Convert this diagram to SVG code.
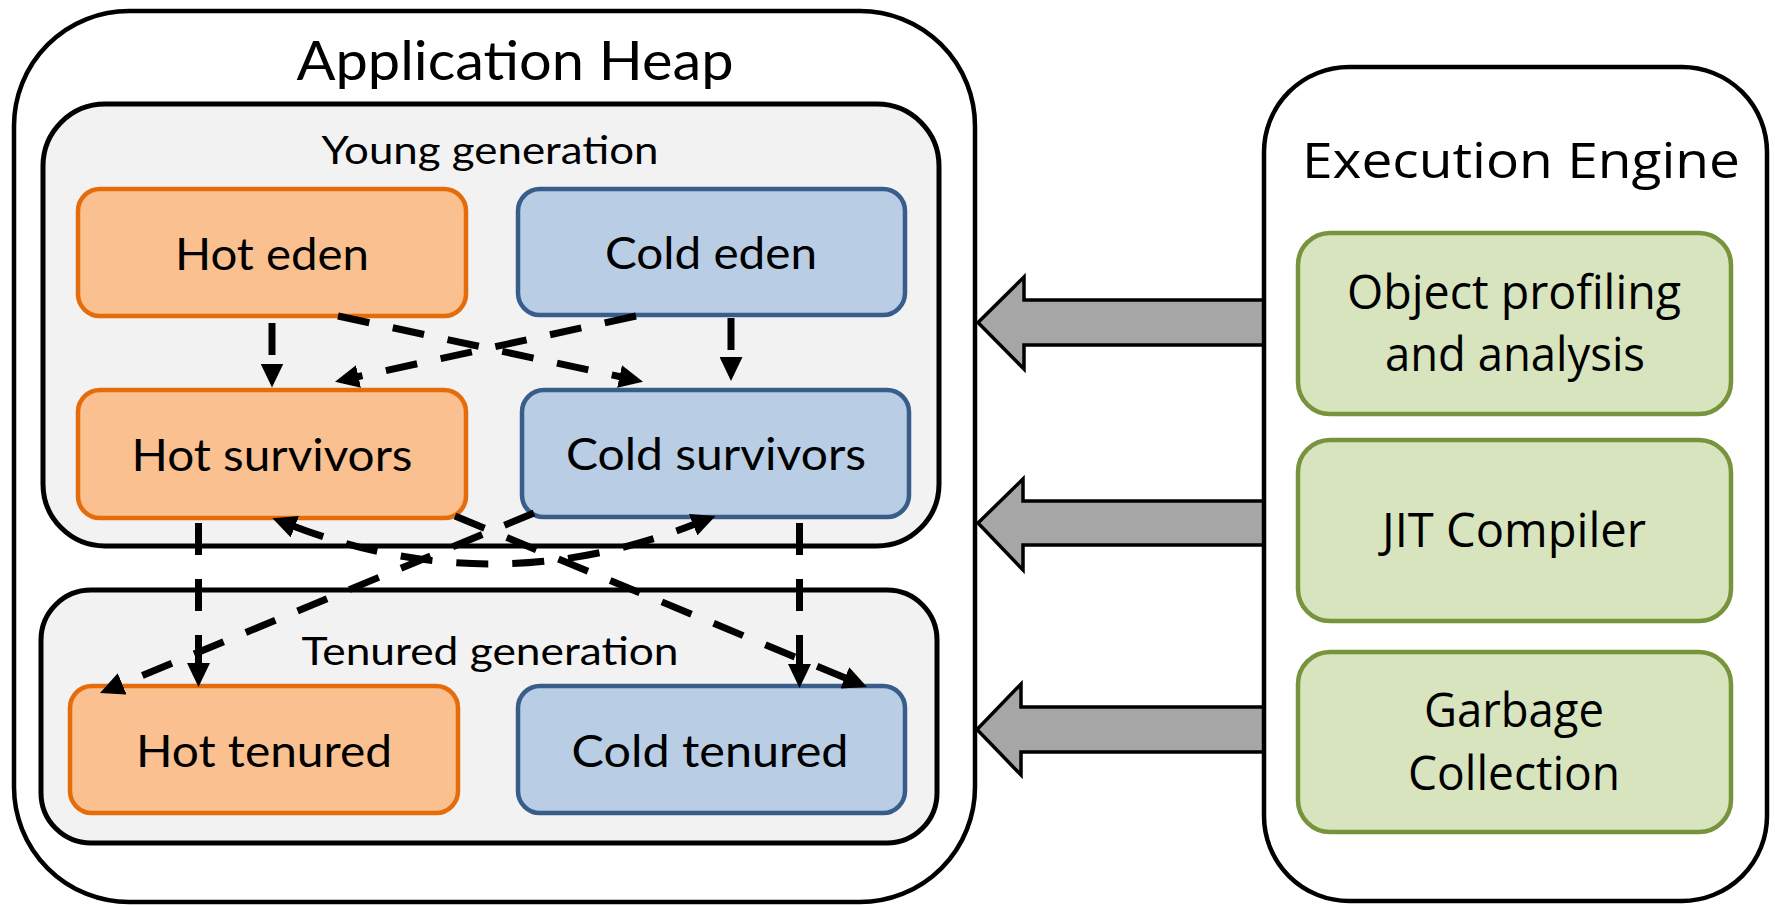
<svg xmlns="http://www.w3.org/2000/svg" width="1775" height="905" viewBox="0 0 1775 905">
<style>
.cont{fill:#ffffff;stroke:#000;stroke-width:4.5}
.gen{fill:#f2f2f2;stroke:#000;stroke-width:5}
.hot{fill:#fac090;stroke:#e46c0a;stroke-width:4.5}
.cold{fill:#b9cde5;stroke:#385d8a;stroke-width:4.5}
.eng{fill:#d7e4bd;stroke:#77933c;stroke-width:4.5}
.big{fill:#a6a6a6;stroke:#000;stroke-width:3.5;stroke-linejoin:miter}
.tl{font-family:Lato,"Liberation Sans",sans-serif;fill:#000;text-anchor:middle}
.tr{font-family:"Open Sans","Noto Sans","Liberation Sans",sans-serif;fill:#000;text-anchor:middle}
.dash{fill:none;stroke:#000;stroke-width:7;stroke-dasharray:32 24;marker-end:url(#ah)}
</style>
<defs>
<marker id="ah" viewBox="0 0 24 23" refX="2" refY="11.5" markerWidth="24" markerHeight="23" markerUnits="userSpaceOnUse" orient="auto-start-reverse">
<path d="M0,0 L24,11.5 L0,23 z" fill="#000"/>
</marker>
</defs>

<g id="application-heap">
<rect class="cont" x="14" y="11" width="961" height="891" rx="115" ry="115"/>
<text class="tl" x="515" y="80" font-size="54" textLength="437" lengthAdjust="spacingAndGlyphs">Application Heap</text>
</g>
<g id="young-generation">
<rect class="gen" x="43" y="104" width="896" height="442" rx="62" ry="62"/>
<text class="tl" x="490" y="164" font-size="39" textLength="337" lengthAdjust="spacingAndGlyphs">Young generation</text>
</g>
<g id="tenured-generation">
<rect class="gen" x="41" y="590" width="896" height="253" rx="50" ry="50"/>
<text class="tl" x="490" y="665" font-size="39" textLength="377" lengthAdjust="spacingAndGlyphs">Tenured generation</text>
</g>

<g id="hot-eden">
<rect class="hot" x="78" y="189" width="388" height="127" rx="22" ry="22"/>
<text class="tl" x="272" y="270" font-size="45" textLength="194" lengthAdjust="spacingAndGlyphs">Hot eden</text>
</g>
<g id="cold-eden">
<rect class="cold" x="518" y="189" width="387" height="126" rx="22" ry="22"/>
<text class="tl" x="711" y="269" font-size="45" textLength="212" lengthAdjust="spacingAndGlyphs">Cold eden</text>
</g>
<g id="hot-survivors">
<rect class="hot" x="78" y="390" width="388" height="128" rx="22" ry="22"/>
<text class="tl" x="272" y="471" font-size="45" textLength="281" lengthAdjust="spacingAndGlyphs">Hot survivors</text>
</g>
<g id="cold-survivors">
<rect class="cold" x="522" y="390" width="387" height="127" rx="22" ry="22"/>
<text class="tl" x="716" y="470" font-size="45" textLength="300" lengthAdjust="spacingAndGlyphs">Cold survivors</text>
</g>
<g id="hot-tenured">
<rect class="hot" x="70" y="686" width="388" height="127" rx="22" ry="22"/>
<text class="tl" x="264" y="767" font-size="45" textLength="256" lengthAdjust="spacingAndGlyphs">Hot tenured</text>
</g>
<g id="cold-tenured">
<rect class="cold" x="518" y="686" width="387" height="127" rx="22" ry="22"/>
<text class="tl" x="710" y="767" font-size="45" textLength="277" lengthAdjust="spacingAndGlyphs">Cold tenured</text>
</g>

<g id="connectors">
<path class="dash" d="M272,323 L272,365.5"/>
<path class="dash" d="M731,318 L731,359"/>
<path class="dash" d="M338,316 L621.5,377"/>
<path class="dash" d="M636,316 L356.5,377"/>
<path class="dash" d="M198.5,523 L198.5,665"/>
<path class="dash" d="M799.5,523 L799.5,666"/>
<path class="dash" d="M455,516 L846.7,678.6"/>
<path class="dash" d="M534,513 L120.3,684.6"/>
<path class="dash" style="marker-start:url(#ah)" d="M293,526 Q494,603 695,524"/>
<path class="big" d="M1268,300 L1024,300 L1024,277 L978,322.5 L1024,369 L1024,345 L1268,345 Z"/>
<path class="big" d="M1268,501 L1023,501 L1023,479 L978,523 L1023,570 L1023,545 L1268,545 Z"/>
<path class="big" d="M1268,707 L1021,707 L1021,684 L977,729.5 L1021,775 L1021,752 L1268,752 Z"/>
</g>

<g id="execution-engine">
<rect class="cont" x="1264" y="67" width="503" height="834" rx="85" ry="85"/>
<text class="tr" x="1521" y="178" font-size="50" textLength="438" lengthAdjust="spacingAndGlyphs">Execution Engine</text>
</g>
<g id="object-profiling">
<rect class="eng" x="1298" y="233" width="433" height="181" rx="32" ry="32"/>
<text class="tr" x="1514" y="309" font-size="47" textLength="334" lengthAdjust="spacingAndGlyphs">Object profiling</text>
<text class="tr" x="1515" y="371" font-size="47" textLength="260" lengthAdjust="spacingAndGlyphs">and analysis</text>
</g>
<g id="jit-compiler">
<rect class="eng" x="1298" y="440" width="433" height="181" rx="32" ry="32"/>
<text class="tr" x="1514" y="547" font-size="47" textLength="264" lengthAdjust="spacingAndGlyphs">JIT Compiler</text>
</g>
<g id="garbage-collection">
<rect class="eng" x="1298" y="652" width="433" height="180" rx="32" ry="32"/>
<text class="tr" x="1514" y="727" font-size="47" textLength="180" lengthAdjust="spacingAndGlyphs">Garbage</text>
<text class="tr" x="1514" y="790" font-size="47" textLength="212" lengthAdjust="spacingAndGlyphs">Collection</text>
</g>
</svg>
